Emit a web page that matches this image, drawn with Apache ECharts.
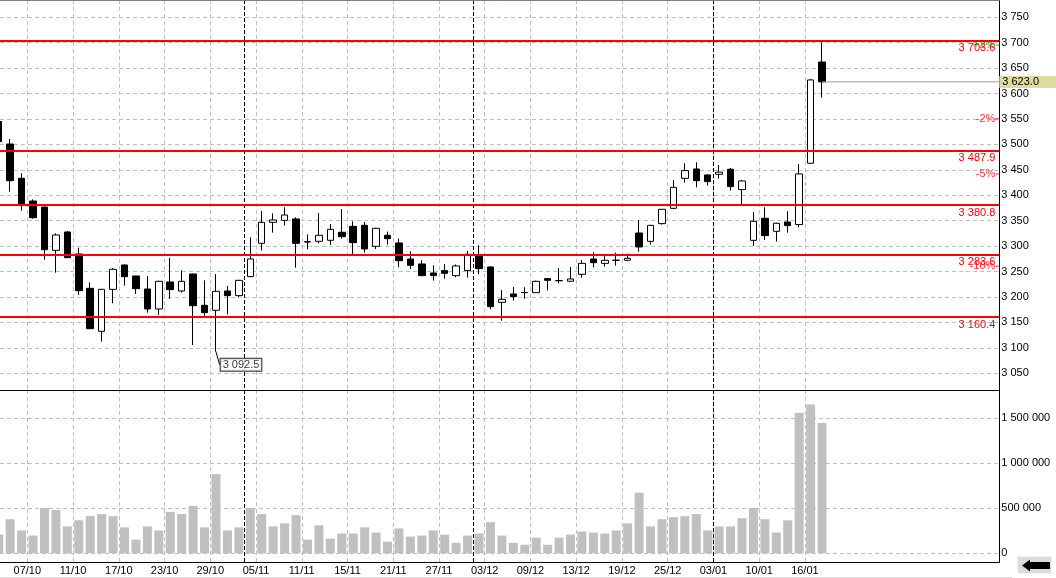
<!DOCTYPE html>
<html><head><meta charset="utf-8">
<script src="https://cdn.jsdelivr.net/npm/echarts@6/dist/echarts.min.js"></script>
<style>html,body{margin:0;padding:0;background:#fff;overflow:hidden}#c{width:1063px;height:578px;margin-left:-7px}</style>
</head><body><div id="c"></div>
<script>
// ---- data ----
const dates = ['02/10','03/10','04/10','07/10','08/10','09/10','10/10','11/10','14/10','15/10','16/10','17/10','18/10','21/10','22/10','23/10','24/10','25/10','28/10','29/10','30/10','31/10',
 '01/11','05/11','06/11','07/11','08/11','11/11','12/11','13/11','14/11','15/11','18/11','19/11','20/11','21/11','22/11','25/11','26/11','27/11','28/11','29/11',
 '02/12','03/12','04/12','05/12','06/12','09/12','10/12','11/12','12/12','13/12','16/12','17/12','18/12','19/12','20/12','23/12','24/12','25/12','26/12','27/12','30/12',
 '03/01','06/01','08/01','09/01','10/01','13/01','14/01','15/01','16/01','17/01'];
const opens = [3545,3500.9,3433.4,3388.8,3377.0,3291.8,3327.9,3284.6,3217.1,3132.6,3215.1,3263.0,3241.4,3215.8,3176.5,3229.6,3211.9,3245.3,3183.7,3173.9,3211.9,3202.7,
 3240.1,3305.6,3346.9,3350.8,3353.5,3308.7,3309.6,3311.5,3327.3,3339.0,3341.0,3299.7,3321.4,3306.3,3274.8,3265.0,3247.3,3251.9,3242.1,3251.9,
 3280.7,3259.1,3189.6,3206.0,3208.9,3208.6,3236.2,3232.3,3231.0,3244.6,3274.8,3266.2,3272.4,3272.2,3325.9,3309.5,3344.3,3374.4,3433.4,3451.8,3440.0,
 3441.3,3451.2,3411.2,3311.5,3354.8,3329.2,3347.6,3342.4,3463.0,3662.1];
const closes = [3505.4,3428.8,3383.6,3356.0,3293.1,3321.9,3277.4,3212.5,3137.8,3215.1,3254.5,3240.0,3216.4,3176.5,3230.9,3214.5,3230.9,3183.0,3169.3,3211.2,3202.7,3232.8,
 3274.8,3346.9,3351.5,3361.3,3305.6,3308.2,3321.4,3333.1,3318.7,3306.9,3294.5,3335.1,3314.8,3271.5,3262.4,3242.1,3242.1,3246.6,3261.1,3284.0,
 3255.8,3181.1,3195.5,3200.8,3208.6,3230.9,3232.9,3232.0,3235.5,3266.2,3267.6,3272.2,3272.2,3276.1,3298.4,3340.9,3372.5,3415.7,3448.5,3428.8,3426.9,
 3445.5,3417.1,3428.2,3348.9,3320.7,3345.0,3340.4,3442.0,3626.8,3623.0];
const lows = [3498,3407.1,3369.8,3354.0,3273.5,3247.9,3277.0,3204.0,3137.0,3112.3,3187.6,3222.3,3206.0,3169.3,3164.7,3196.1,3208.6,3105.7,3162.7,3092.5,3166.0,3200.0,
 3239.0,3291.2,3326.6,3340.4,3257.8,3293.8,3305.6,3302.3,3314.8,3280.7,3287.3,3294.5,3303.0,3258.4,3255.2,3241.0,3232.2,3236.2,3238.8,3238.1,
 3244.7,3175.9,3153.5,3192.9,3196.8,3208.0,3213.2,3227.0,3230.5,3238.1,3258.4,3259.7,3261.7,3271.5,3289.2,3303.0,3342.3,3372.5,3424.9,3415.7,3419.0,
 3432.8,3409.2,3383.0,3300.4,3312.2,3308.9,3326.6,3337.1,3462.0,3592.0];
const highs = [3552,3510.7,3443.2,3392.0,3377.5,3325.2,3330.0,3297.0,3228.9,3216.0,3257.1,3264.0,3242.0,3241.4,3232.0,3276.7,3252.5,3246.0,3232.8,3245.3,3221.7,3234.0,
 3317.4,3369.2,3364.6,3376.4,3356.7,3323.3,3365.3,3343.6,3373.1,3348.9,3347.6,3336.0,3328.6,3314.8,3289.9,3272.2,3262.4,3265.0,3264.0,3290.6,
 3301.7,3260.0,3213.9,3219.8,3219.1,3232.2,3237.0,3257.1,3259.1,3272.8,3287.9,3280.7,3287.3,3285.3,3351.5,3342.0,3373.0,3430.1,3462.9,3464.9,3441.0,
 3459.6,3453.8,3430.0,3367.2,3376.4,3346.0,3368.6,3461.7,3628.5,3700.2];
const volumes = [208000,379000,254000,197000,504000,481000,299000,367000,413000,436000,413000,288000,152000,299000,254000,458000,436000,527000,288000,879000,254000,288000,
 504000,436000,299000,333000,424000,152000,311000,163000,220000,220000,288000,231000,129000,277000,186000,197000,254000,208000,117000,197000,
 220000,345000,197000,117000,95000,174000,95000,174000,208000,242000,231000,220000,254000,333000,674000,299000,379000,402000,413000,436000,254000,
 299000,299000,390000,504000,379000,231000,367000,1561000,1652000,1447000];
const tickLabels = ['07/10','11/10','17/10','23/10','29/10','05/11','11/11','15/11','21/11','27/11','03/12','09/12','13/12','19/12','25/12','03/01','10/01','16/01'];
const monthStarts = ['01/11','02/12','03/01'];
const levels = [3703.6, 3487.9, 3380.8, 3283.6, 3160.4];
const pctSteps = [2, -2, -5, -10];

// ---- layout ----
const SLOTS = 88;
const OFF = 7;                 // canvas is shifted 7px left of the page edge
const FONT = '"Liberation Sans", Arial, sans-serif';
const CHART_W = 1063;
const GRID_RIGHT = CHART_W - (999.3 + OFF);
const SLOT_W = (CHART_W - GRID_RIGHT) / SLOTS;
const categories = dates.concat(Array.from({length: SLOTS - dates.length}, (_, i) => 'pad' + i));
const tickSet = new Set(tickLabels), monthSet = new Set(monthStarts);
const isTick = (i, v) => tickSet.has(v);
const isMonth = (i, v) => monthSet.has(v);
const fmt = (v, d) => { const s = Number(v).toFixed(d); const p = s.split('.'); return p[0].replace(/\B(?=(\d{3})+(?!\d))/g, ' ') + (p[1] ? '.' + p[1] : ''); };
const lastIdx = dates.length - 1, lastClose = closes[lastIdx];
let lowIdx = 0; lows.forEach((v, i) => { if (v < lows[lowIdx]) lowIdx = i; });

const grey = '#c0c0c0';
const greyDash = {color: grey, width: 1, type: [4, 3]};
const blackDash = {color: '#000', width: 1, type: [4, 2]};

const chart = echarts.init(document.getElementById('c'), null, {renderer: 'canvas'});
chart.setOption({
  animation: false,
  backgroundColor: '#fff',
  textStyle: {fontFamily: FONT},
  grid: [
    {left: 0, right: GRID_RIGHT, top: 0, height: 390},
    {left: 0, right: GRID_RIGHT, top: 390, height: 172}
  ],
  xAxis: [
    {type: 'category', gridIndex: 0, data: categories, position: 'bottom', boundaryGap: true,
     axisLine: {show: true, onZero: false, lineStyle: {color: '#000', width: 1}}, axisTick: {show: false}, axisLabel: {show: false},
     splitLine: {show: true, interval: isTick, lineStyle: greyDash}},
    {type: 'category', gridIndex: 1, data: categories, position: 'bottom', boundaryGap: true,
     axisLine: {show: true, onZero: false, lineStyle: {color: '#000', width: 1}}, axisTick: {show: false},
     axisLabel: {show: true, interval: isTick, color: '#000', fontSize: 11, fontFamily: FONT, margin: 3, padding: [0, SLOT_W, 0, 0]},
     splitLine: {show: true, interval: isTick, lineStyle: greyDash}},
    {type: 'category', gridIndex: 0, data: categories, position: 'top', boundaryGap: true,
     axisLine: {show: true, onZero: false, lineStyle: {color: '#808080', width: 1}}, axisTick: {show: false}, axisLabel: {show: false},
     splitLine: {show: true, interval: isMonth, lineStyle: blackDash}},
    {type: 'category', gridIndex: 1, data: categories, position: 'top', boundaryGap: true,
     axisLine: {show: false, onZero: false}, axisTick: {show: false}, axisLabel: {show: false},
     splitLine: {show: true, interval: isMonth, lineStyle: blackDash}},
    {type: 'value', gridIndex: 0, min: -0.5, max: SLOTS - 0.5, show: false, position: 'bottom', axisLine: {onZero: false}}
  ],
  yAxis: [
    {type: 'value', gridIndex: 0, position: 'right', min: 3017.2, max: 3784.0, splitNumber: 15, minInterval: 50, maxInterval: 50,
     axisLine: {show: true, onZero: false, lineStyle: {color: '#000', width: 1}}, axisTick: {show: false},
     axisLabel: {margin: 2, color: '#000', fontSize: 11, fontFamily: FONT, showMinLabel: false, showMaxLabel: false, formatter: v => fmt(v, 0)},
     splitLine: {show: true, showMinLine: false, showMaxLine: false, lineStyle: greyDash}},
    {type: 'value', gridIndex: 1, position: 'right', min: -96700, max: 1814400, splitNumber: 4, minInterval: 500000, maxInterval: 500000,
     axisLine: {show: true, onZero: false, lineStyle: {color: '#000', width: 1}}, axisTick: {show: false},
     axisLabel: {margin: 2, color: '#000', fontSize: 11, fontFamily: FONT, showMinLabel: false, showMaxLabel: false, formatter: v => fmt(v, 0)},
     splitLine: {show: true, showMinLine: false, showMaxLine: false, lineStyle: greyDash}}
  ],
  series: [
    {type: 'candlestick', xAxisIndex: 0, yAxisIndex: 0, barWidth: 7,
     data: dates.map((d, i) => [opens[i], closes[i], lows[i], highs[i]]),
     itemStyle: {color: '#fff', color0: '#000', borderColor: '#000', borderColor0: '#000', borderColorDoji: '#000', borderWidth: 1},
     markLine: {silent: true, symbol: ['none', 'none'], animation: false,
       lineStyle: {color: '#ff0000', width: 2, type: 'solid'},
       label: {show: true, position: 'insideEndBottom', distance: [4, 2], color: '#ff0000', fontSize: 11, fontFamily: FONT, formatter: p => fmt(p.value, 1)},
       emphasis: {disabled: true},
       data: levels.map(v => ({yAxis: v}))}},
    {type: 'bar', xAxisIndex: 1, yAxisIndex: 1, barWidth: 9, data: volumes, itemStyle: {color: grey}, silent: true},
    {type: 'line', xAxisIndex: 4, yAxisIndex: 0, symbol: 'none', silent: true,
     data: [[lastIdx, lastClose], [SLOTS - 0.5, lastClose]],
     lineStyle: {color: '#a0a0a0', width: 1},
     endLabel: {show: true, formatter: () => fmt(lastClose, 1), distance: 0, backgroundColor: '#dedc9c', color: '#000',
       fontSize: 11, fontFamily: FONT, padding: [1, 2, 0, 3], width: 52, align: 'left'}},
    {type: 'scatter', xAxisIndex: 4, yAxisIndex: 0, symbol: 'rect', symbolSize: [4, 1], symbolOffset: [-2, 0], silent: true, clip: false,
     data: pctSteps.map(p => {
       const c = p > 0 ? '#00a000' : '#ff0000';
       return {value: [SLOTS - 0.5, lastClose * (1 + p / 100)], itemStyle: {color: c},
               label: {formatter: (p > 0 ? '+' : '-') + Math.abs(p) + '%', color: c}};
     }),
     label: {show: true, position: 'left', distance: 0, fontSize: 11, fontFamily: FONT}},
    {type: 'scatter', xAxisIndex: 0, yAxisIndex: 0, symbolSize: 1, silent: true,
     data: [[lowIdx, lows[lowIdx]]], itemStyle: {color: '#000'},
     label: {show: true, position: 'inside', formatter: () => fmt(lows[lowIdx], 1), color: '#000', fontSize: 11, fontFamily: FONT,
       backgroundColor: '#fff', borderColor: '#000', borderWidth: 1, padding: [1, 2, 0, 2]},
     labelLayout: {dx: 25, dy: 13},
     labelLine: {show: true, lineStyle: {color: '#000', width: 1}}}
  ],
  graphic: [
    {type: 'line', silent: true, shape: {x1: OFF, y1: 577.5, x2: 1012 + OFF, y2: 577.5}, style: {stroke: '#d8d8d8', lineWidth: 1}},
    {type: 'rect', silent: true, shape: {x: 1017.5 + OFF, y: 556.5, width: 34, height: 17}, style: {fill: '#dcdcdc', stroke: '#f4f4f4', lineWidth: 1}},
    {type: 'polygon', silent: true, shape: {points: [[1022 + OFF, 565.5], [1030 + OFF, 559.5], [1030 + OFF, 562], [1050 + OFF, 562], [1050 + OFF, 569], [1030 + OFF, 569], [1030 + OFF, 571.5]]}, style: {fill: '#000'}}
  ]
});
</script></body></html>
